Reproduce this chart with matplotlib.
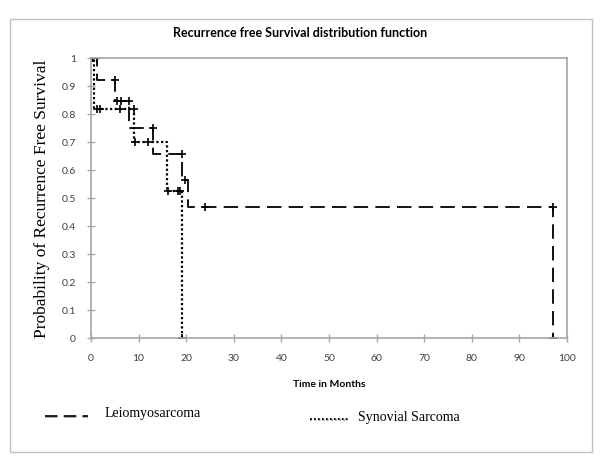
import matplotlib
matplotlib.use("Agg")
import matplotlib.pyplot as plt
from matplotlib.patches import Rectangle
from matplotlib.lines import Line2D

# Leiomyosarcoma step function
leio_t = [0, 1.25, 5.1, 8.0, 13.1, 19.1, 20.3, 97]
leio_s = [1.0, 0.923, 0.846, 0.75, 0.657, 0.563, 0.469, 0.0]
leio_cens_t = [0.4, 1.25, 5.1, 5.4, 6.3, 8.0, 13.1, 19.1, 19.8, 23.9, 97, 97]
leio_cens_s = [1.0, 1.0, 0.923, 0.846, 0.846, 0.846, 0.75, 0.657, 0.563, 0.469, 0.469, 0.0]

# Synovial sarcoma step function
syn_t = [0, 0.7, 9.1, 16.0, 19.2]
syn_s = [1.0, 0.818, 0.70, 0.525, 0.0]
syn_cens_t = [0.3, 1.2, 1.9, 6.1, 9.1, 9.3, 12.0, 16.2, 18.2, 18.8, 19.2]
syn_cens_s = [1.0, 0.818, 0.818, 0.818, 0.818, 0.70, 0.70, 0.525, 0.525, 0.525, 0.0]

xticks = list(range(0, 101, 10))
yticks = [0, 0.1, 0.2, 0.3, 0.4, 0.5, 0.6, 0.7, 0.8, 0.9, 1]
ytick_labels = ["0", "0.1", "0.2", "0.3", "0.4", "0.5", "0.6", "0.7", "0.8", "0.9", "1"]

fig = plt.figure(figsize=(6, 4.64), dpi=100)
W, H = 600, 464
ax = fig.add_axes([91 / W, 1 - 339 / H, (567 - 91) / W, (339 - 59) / H])

grey = "#a6a6a6"
ax.step(leio_t, leio_s, where="post", color="black", lw=1.3, linestyle=(0, (8, 4)))
ax.plot(leio_cens_t, leio_cens_s, linestyle="none", marker="+", ms=5.5, mew=1.2, color="black")
ax.step(syn_t, syn_s, where="post", color="black", lw=1.6, linestyle=(0, (1, 1.1)))
ax.plot(syn_cens_t, syn_cens_s, linestyle="none", marker="+", ms=5.5, mew=1.2, color="black")

ax.set_xlim(0, 100)
ax.set_ylim(0, 1)
ax.set_xticks(xticks)
ax.set_yticks(yticks)
ax.set_yticklabels(ytick_labels)
for s in ax.spines.values():
    s.set_color(grey)
    s.set_linewidth(1.2)
ax.tick_params(direction="inout", length=6, width=1, color=grey, labelsize=7.5,
               labelcolor="#404040", pad=8)
for lab in ax.get_xticklabels() + ax.get_yticklabels():
    lab.set_family("Lato")

ax.set_xlabel("Time in Months", fontsize=7.5, fontweight="bold", family="Lato", labelpad=12)
ax.set_ylabel("Probability of Recurrence Free Survival", fontsize=12.5,
              family="Liberation Serif", labelpad=8)

fig.text(300 / W, 1 - 33 / H, "Recurrence free Survival distribution function",
         ha="center", va="center", fontsize=9, fontweight="bold", family="Lato")

# outer frame
fig.patches.append(Rectangle((10 / W, 1 - 453 / H), (592 - 10) / W, (453 - 20) / H,
                             transform=fig.transFigure, fill=False, edgecolor="#bfbfbf", lw=1))

# legend
fig.lines.append(Line2D([45 / W, 88 / W], [1 - 418 / H] * 2, transform=fig.transFigure,
                        color="#b0b0b0", lw=1.5, linestyle=(0, (6, 3))))
fig.lines.append(Line2D([45 / W, 88 / W], [1 - 416.5 / H] * 2, transform=fig.transFigure,
                        color="black", lw=1.2, linestyle=(0, (7.5, 3.75))))
fig.text(105 / W, 1 - 414 / H, "Leiomyosarcoma", ha="left", va="center", fontsize=10,
         family="Liberation Serif")
fig.lines.append(Line2D([310 / W, 348 / W], [1 - 421 / H] * 2, transform=fig.transFigure,
                        color="#b0b0b0", lw=1.5, linestyle=(0, (1, 1))))
fig.lines.append(Line2D([310 / W, 348 / W], [1 - 419.5 / H] * 2, transform=fig.transFigure,
                        color="black", lw=1.3, linestyle=(0, (1, 1.2))))
fig.text(358 / W, 1 - 418 / H, "Synovial Sarcoma", ha="left", va="center", fontsize=10,
         family="Liberation Serif")

fig.savefig("out.png", dpi=100)
